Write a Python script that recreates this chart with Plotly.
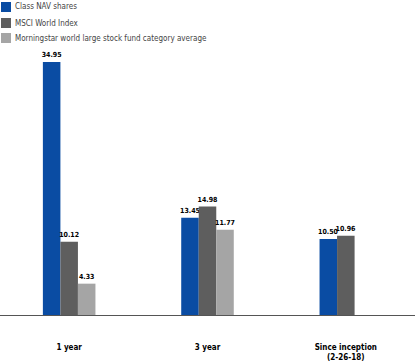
import plotly.graph_objects as go

categories = ["1 year", "3 year", "Since inception<br>(2-26-18)"]
series_names = ["Class NAV shares", "MSCI World Index",
                "Morningstar world large stock fund category average"]
nav = [34.95, 13.45, 10.50]
msci = [10.12, 14.98, 10.96]
morningstar = [4.33, 11.77, None]
colors = ["#0a4ca3", "#5e5e5e", "#a5a5a5"]

FONT = "DejaVu Sans Condensed, Liberation Sans Narrow, sans-serif"

fig = go.Figure()
for name, vals, col in zip(series_names, [nav, msci, morningstar], colors):
    fig.add_trace(go.Bar(
        x=categories, y=vals, name=name, marker_color=col,
        marker_line_width=0,
        text=[f"{v:.2f}" if v is not None else "" for v in vals],
        textposition="outside", cliponaxis=False, constraintext="none",
        textfont=dict(family=FONT, size=7, color="#000000", weight="bold"),
    ))

def py(p):
    # pixel y (from top of window) -> paper coords (plot area spans y 45..315)
    return (315 - p) / 270

shapes = []
annotations = []
leg_y = [7, 23, 38]
for name, col, yc in zip(series_names, colors, leg_y):
    shapes.append(dict(type="rect", xref="paper", yref="paper",
                       x0=1 / 415, x1=11 / 415, y0=py(yc + 5), y1=py(yc - 5),
                       line_width=0, fillcolor=col))
    annotations.append(dict(xref="paper", yref="paper", x=13 / 415, y=py(yc),
                            xanchor="left", yanchor="middle", text=name,
                            showarrow=False,
                            font=dict(family=FONT, size=8, color="#444444")))

fig.update_layout(
    width=415, height=363,
    margin=dict(l=0, r=0, t=45, b=48),
    paper_bgcolor="white", plot_bgcolor="white",
    barmode="group", bargap=0.62, bargroupgap=0,
    showlegend=False,
    shapes=shapes, annotations=annotations,
    xaxis=dict(showline=True, linecolor="#555555", linewidth=1,
               ticks="", showgrid=False, ticklabelstandoff=24,
               tickfont=dict(family=FONT, size=8, color="#000000", weight="bold")),
    yaxis=dict(range=[0, 37.3], visible=False, showgrid=False, zeroline=False),
)
fig.write_html("out.html")
